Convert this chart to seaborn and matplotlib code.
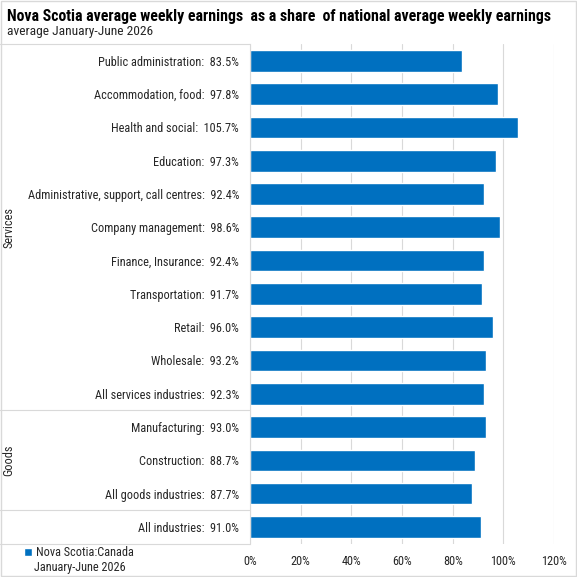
import matplotlib
matplotlib.use("Agg")
import matplotlib.pyplot as plt
import matplotlib.transforms as mtransforms
from matplotlib.patches import Rectangle
import seaborn as sns

# datos
industrias = [
    "Public administration", "Accommodation, food", "Health and social",
    "Education", "Administrative, support, call centres", "Company management",
    "Finance, Insurance", "Transportation", "Retail", "Wholesale",
    "All services industries", "Manufacturing", "Construction",
    "All goods industries", "All industries",
]
porcentajes = [83.5, 97.8, 105.7, 97.3, 92.4, 98.6, 92.4, 91.7, 96.0, 93.2,
               92.3, 93.0, 88.7, 87.7, 91.0]
grupos = ["Services", "Goods", ""]
tamanio_grupos = [11, 3, 1]
ticks_x = [0, 20, 40, 60, 80, 100, 120]

sns.set_theme(style="white")
plt.rcParams['font.family'] = ['Roboto Condensed', 'DejaVu Sans']

AZUL = "#0070C0"
GRIS = "#D9D9D9"
TEXTO = "#262626"
TAM = 8.8

etiquetas = [f"{n}:  {v:.1f}%" for n, v in zip(industrias, porcentajes)]

W = 577
X0, X1 = 250, 554      # pixeles de 0% y 120%
Y0, Y1 = 44.2, 543.6   # borde superior e inferior del area de barras
fig = plt.figure(figsize=(5.77, 5.77), dpi=100)
ax = fig.add_axes([X0 / W, 1 - Y1 / W, (X1 - X0) / W, (Y1 - Y0) / W])

sns.barplot(x=porcentajes, y=etiquetas, orient="h", color=AZUL, saturation=1,
            width=0.65, ax=ax, label="Nova Scotia:Canada")

ax.set_xlim(0, 120)
ax.set_ylim(len(industrias) - 0.5, -0.5)
ax.set_xticks(ticks_x)
ax.set_xticklabels([f"{t}%" for t in ticks_x])
ax.xaxis.grid(True, color=GRIS, linewidth=0.8)
ax.set_axisbelow(True)
ax.tick_params(axis="y", length=0, pad=8, labelsize=TAM, labelcolor=TEXTO)
ax.tick_params(axis="x", length=0, pad=8, labelsize=TAM, labelcolor=TEXTO)
ax.set_xlabel("")
ax.set_ylabel("")
for lado in ["top", "right", "bottom"]:
    ax.spines[lado].set_visible(False)
ax.spines["left"].set_color(GRIS)
ax.spines["left"].set_linewidth(0.8)

# lineas separadoras de grupos en la zona de etiquetas
trans = mtransforms.blended_transform_factory(ax.transAxes, ax.transData)
x_izq = -X0 / (X1 - X0)
limite = -0.5
ax.plot([x_izq, 0], [limite, limite], transform=trans, color=GRIS,
        linewidth=0.8, clip_on=False)
for nombre, n in zip(grupos, tamanio_grupos):
    inicio = limite
    limite = limite + n
    ax.plot([x_izq, 0], [limite, limite], transform=trans, color=GRIS,
            linewidth=0.8, clip_on=False)
    if nombre:
        ax.text(x_izq + 8.5 / (X1 - X0), (inicio + limite) / 2, nombre,
                transform=trans, rotation=90, ha="center", va="center",
                fontsize=TAM, color=TEXTO)

# titulo y subtitulo
fig.text(7 / W, 1 - 16.5 / W, "Nova Scotia average weekly earnings  as a share  of national average weekly earnings",
         fontsize=11.4, fontweight="bold", color="#000000", va="center")
fig.text(7 / W, 1 - 32 / W, "average January-June 2026", fontsize=9.7,
         color=TEXTO, va="center")

# leyenda
leg = ax.legend(loc="center left", bbox_to_anchor=(24 / W, 1 - 553 / W),
                bbox_transform=fig.transFigure, frameon=False, fontsize=TAM,
                handlelength=0.65, handleheight=0.65, handletextpad=0.35,
                borderpad=0, borderaxespad=0)
for t in leg.get_texts():
    t.set_color(TEXTO)
fig.text(34 / W, 1 - 567 / W, "January-June 2026", fontsize=TAM,
         color=TEXTO, va="center")

# borde exterior
fig.patches.append(Rectangle((0.001, 0.001), 0.998, 0.998, transform=fig.transFigure,
                             fill=False, edgecolor=GRIS, linewidth=1))

fig.savefig("out.png", dpi=100)
